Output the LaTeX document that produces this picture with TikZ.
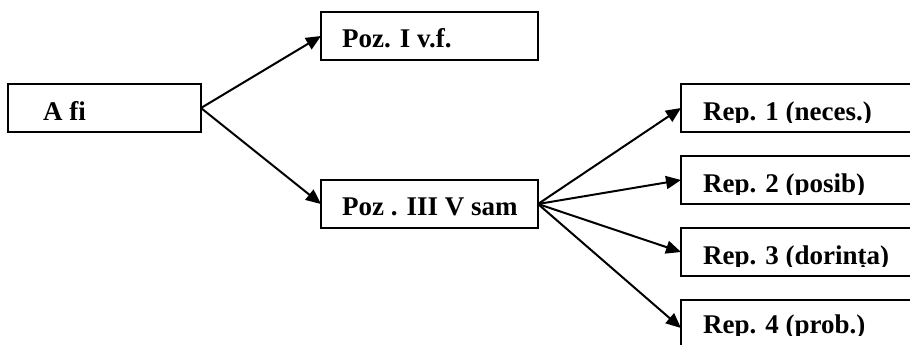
\documentclass[tikz,border=0pt]{standalone}
\usepackage{fontspec}
\setmainfont{Liberation Serif}
\usetikzlibrary{arrows.meta}
\tikzset{
  boxnode/.style={draw=black, line width=2pt, inner sep=0pt, outer sep=0pt, anchor=north west, minimum height=48pt},
  txt/.style={anchor=base west, inner sep=0pt, font=\fontsize{27}{30}\selectfont\bfseries},
  arr/.style={line width=2pt, -{Triangle[length=15pt,width=13pt]}}
}
\begin{document}
\begin{tikzpicture}[x=1pt,y=-1pt]
\useasboundingbox (0,0) rectangle (910,345);
\clip (0,0) rectangle (910,345);
% boxes
\node[boxnode, minimum width=193pt] (afi) at (8,84) {};
\node[boxnode, minimum width=217pt] (poz1) at (321,12) {};
\node[boxnode, minimum width=217pt] (poz3) at (321,180) {};
\node[boxnode, minimum width=240pt] (rep1) at (681,84) {};
\node[boxnode, minimum width=240pt] (rep2) at (681,156) {};
\node[boxnode, minimum width=240pt] (rep3) at (681,228) {};
\node[boxnode, minimum width=240pt] (rep4) at (681,300) {};
% texts
\node[txt] (tafi) at (43,120) {A fi};
\node[txt] (tpoz1) at (342,48) {Poz. I v.f.};
\node[txt] (tpoz3) at (342,215) {Poz . III V sam};
\begin{scope}
\clip (690,90) rectangle (910,122);
\node[txt] (trep1) at (703,120) {Rep. 1 (neces.)};
\end{scope}
\begin{scope}
\clip (690,162) rectangle (910,194);
\node[txt] (trep2) at (703,192) {Rep. 2 (posib)};
\end{scope}
\begin{scope}
\clip (690,234) rectangle (910,266);
\node[txt] (trep3) at (703,264) {Rep. 3 (dorința)};
\end{scope}
\begin{scope}
\clip (690,306) rectangle (910,335);
\node[txt] (trep4) at (703,333) {Rep. 4 (prob.)};
\end{scope}
% arrows
\draw[arr] (afi.east) -- (poz1.west);
\draw[arr] (afi.east) -- (poz3.west);
\draw[arr] (poz3.east) -- (rep1.west);
\draw[arr] (poz3.east) -- (rep2.west);
\draw[arr] (poz3.east) -- (rep3.west);
\draw[arr] (poz3.east) -- ([yshift=-4pt]rep4.west);
\end{tikzpicture}
\end{document}
